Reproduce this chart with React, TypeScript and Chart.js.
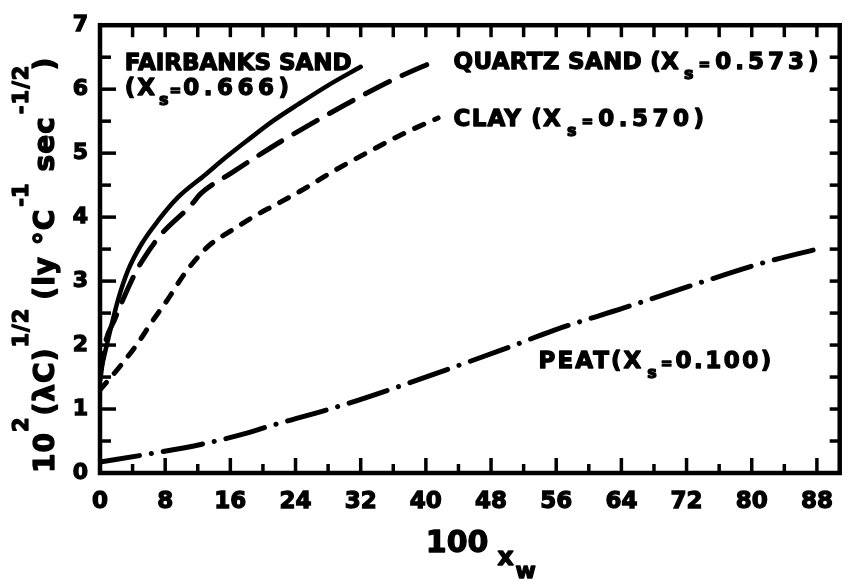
import React, { useEffect, useRef } from "react";
import { Chart, registerables } from "chart.js";

Chart.register(...registerables);

// Fairbanks sand (solid)
const fairbanksX = [0, 1.2, 2.2, 3.45, 5.1, 7.1, 9.5, 12.8, 15.6, 18.1, 21.2, 24.4, 28, 32];
const fairbanksY = [1.55, 2.2, 2.7, 3.17, 3.58, 3.94, 4.3, 4.65, 4.95, 5.2, 5.5, 5.77, 6.06, 6.35];
// Quartz sand (long dash)
const quartzX = [0, 0.6, 1.8, 4.3, 5.5, 7.5, 11.2, 12.4, 16, 19.9, 22.3, 26.5, 31.3, 36, 41.5];
const quartzY = [1.45, 2.0, 2.4, 3.12, 3.38, 3.73, 4.19, 4.37, 4.68, 5.0, 5.19, 5.5, 5.84, 6.15, 6.46];
// Clay (short dash)
const clayX = [0, 2.6, 4.7, 6.3, 8.3, 10.4, 12.4, 13.6, 16, 19.3, 21.5, 24.5, 28.4, 33.7, 37.5, 41.5];
const clayY = [1.3, 1.69, 2.04, 2.35, 2.71, 3.12, 3.43, 3.58, 3.78, 4.04, 4.19, 4.4, 4.7, 5.07, 5.32, 5.55];
// Peat (dash-dot)
const peatX = [0, 5.2, 12.5, 17.9, 21, 29, 37.1, 44.2, 50.1, 55.7, 64.3, 73.3, 81.8, 88.7];
const peatY = [0.17, 0.28, 0.45, 0.62, 0.74, 1.03, 1.37, 1.69, 1.96, 2.23, 2.58, 2.96, 3.3, 3.52];

const xMin = 0;
const xMax = 90.8;
const xStep = 4;
const xLabelEvery = 8;
const yMin = 0;
const yMax = 7;
const yStep = 0.5;

const FONT = '"DejaVu Sans"';
const STROKE = 1.3;

type Seg = { t: string; size: number; dy?: number; gap?: number; ls?: number };

function drawRich(ctx: CanvasRenderingContext2D, x: number, y: number, segs: Seg[]) {
  let cx = x;
  ctx.lineWidth = STROKE;
  ctx.strokeStyle = "#000";
  ctx.lineJoin = "round";
  for (const s of segs) {
    cx += s.gap || 0;
    ctx.font = `bold ${s.size}px ${FONT}`;
    (ctx as any).letterSpacing = `${s.ls ?? 0}px`;
    ctx.fillText(s.t, cx, y + (s.dy || 0));
    ctx.strokeText(s.t, cx, y + (s.dy || 0));
    cx += ctx.measureText(s.t).width;
  }
  (ctx as any).letterSpacing = "0px";
}

const pts = (xs: number[], ys: number[]) => xs.map((x, i) => ({ x, y: ys[i] }));

const framePlugin = {
  id: "frameTicks",
  afterDatasetsDraw(chart: any) {
    const { ctx, chartArea: a, scales } = chart;
    const xs = scales.x;
    const ys = scales.y;
    ctx.save();
    ctx.strokeStyle = "#000";
    ctx.lineCap = "butt";
    ctx.lineWidth = 3.5;
    const line = (x1: number, y1: number, x2: number, y2: number) => {
      ctx.beginPath();
      ctx.moveTo(x1, y1);
      ctx.lineTo(x2, y2);
      ctx.stroke();
    };
    xs.ticks.forEach((t: any) => {
      const v = t.value;
      if (v <= 0 || v % xStep !== 0) return;
      const px = xs.getPixelForValue(v);
      const major = v % xLabelEvery === 0;
      line(px, a.bottom, px, a.bottom - (major ? 15 : 9));
      line(px, a.top, px, a.top + 12);
    });
    ys.ticks.forEach((t: any) => {
      const v = t.value;
      if (v <= yMin || v >= yMax) return;
      const py = ys.getPixelForValue(v);
      const major = Number.isInteger(v);
      line(a.left, py, a.left + (major ? 16 : 11), py);
      line(a.right, py, a.right - 10, py);
    });
    ctx.lineWidth = 4.5;
    ctx.strokeRect(a.left, a.top, a.right - a.left, a.bottom - a.top);
    ctx.restore();
  },
};

const textPlugin = {
  id: "texts",
  afterDraw(chart: any) {
    const { ctx, chartArea: a, scales } = chart;
    const xs = scales.x;
    const ys = scales.y;
    const X = (v: number) => xs.getPixelForValue(v);
    const Y = (v: number) => ys.getPixelForValue(v);
    ctx.save();
    ctx.fillStyle = "#000";
    ctx.textBaseline = "alphabetic";
    ctx.textAlign = "left";

    drawRich(ctx, X(3.05), Y(6.3), [{ t: "FAIRBANKS SAND", size: 23, ls: 0 }]);
    drawRich(ctx, X(3.05), Y(5.91), [
      { t: "(X", size: 23, ls: 2 },
      { t: "s", size: 16, dy: 10, gap: 2 },
      { t: "=", size: 14, gap: 1 },
      { t: "0.666)", size: 23, ls: 4.5, gap: 2 },
    ]);
    drawRich(ctx, X(43.4), Y(6.31), [
      { t: "QUARTZ SAND (X", size: 23, ls: 0.3 },
      { t: "s", size: 16, dy: 10, gap: 5 },
      { t: "=", size: 14, gap: 5 },
      { t: "0.573)", size: 23, ls: 4, gap: 5 },
    ]);
    drawRich(ctx, X(43.4), Y(5.42), [
      { t: "CLAY (X", size: 23, ls: 1.2 },
      { t: "s", size: 16, dy: 10, gap: 5 },
      { t: "=", size: 14, gap: 5 },
      { t: "0.570)", size: 23, ls: 4.5, gap: 5 },
    ]);
    drawRich(ctx, X(53.84), Y(1.64), [
      { t: "PEAT(X", size: 23, ls: 2 },
      { t: "s", size: 16, dy: 10, gap: 4 },
      { t: "=", size: 14, gap: 4 },
      { t: "0.100)", size: 23, ls: 2.5, gap: 3 },
    ]);

    // x axis title
    const tx = X(40);
    const tb = a.bottom + 79;
    drawRich(ctx, tx, tb, [
      { t: "100", size: 30, ls: 0 },
      { t: "x", size: 25, dy: 13, gap: 9 },
      { t: "w", size: 22, dy: 26, gap: 2 },
    ]);

    // y axis title (rotated)
    ctx.save();
    ctx.translate(54, a.bottom);
    ctx.rotate(-Math.PI / 2);
    drawRich(ctx, 0, 0, [
      { t: "10", size: 28, ls: 1 },
      { t: "2", size: 21, dy: -26 },
      { t: "(λC)", size: 28, gap: 2, ls: 1 },
      { t: "1/2", size: 21, dy: -26, ls: 1 },
      { t: "(ly °C", size: 28, gap: 8, ls: 1 },
      { t: "-1", size: 21, dy: -26, gap: 2 },
      { t: "sec", size: 28, gap: 12, ls: 1 },
      { t: "-1/2", size: 21, dy: -26, gap: 2, ls: 1 },
      { t: ")", size: 28, gap: -6 },
    ]);
    ctx.restore();

    ctx.restore();
  },
};

export default function App() {
  const ref = useRef<HTMLCanvasElement>(null);
  useEffect(() => {
    const canvas = ref.current!;
    const common = {
      borderColor: "#000",
      backgroundColor: "#000",
      pointRadius: 0,
      fill: false,
      cubicInterpolationMode: "monotone" as const,
      borderCapStyle: "round" as const,
      borderJoinStyle: "round" as const,
    };
    const tickFont = (size: number) => ({ family: FONT, size, weight: "bold" as const });
    const chart = new Chart(canvas, {
      type: "line",
      data: {
        datasets: [
          { ...common, label: "Fairbanks sand", data: pts(fairbanksX, fairbanksY), borderWidth: 4.5 },
          { ...common, label: "Quartz sand", data: pts(quartzX, quartzY), borderWidth: 5, borderDash: [27, 14] },
          { ...common, label: "Clay", data: pts(clayX, clayY), borderWidth: 5, borderDash: [10, 12] },
          { ...common, label: "Peat", data: pts(peatX, peatY), borderWidth: 5, borderDash: [40, 12, 0.1, 12] },
        ],
      },
      options: {
        responsive: false,
        animation: false,
        events: [],
        layout: { padding: { top: 17, right: 3, left: 0, bottom: 0 } },
        plugins: { legend: { display: false }, tooltip: { enabled: false } },
        scales: {
          x: {
            type: "linear",
            min: xMin,
            max: xMax,
            grid: { display: false, drawTicks: false },
            border: { display: false },
            ticks: {
              stepSize: xStep,
              autoSkip: false,
              maxRotation: 0,
              includeBounds: false,
              padding: 15,
              color: "#000",
              textStrokeColor: "#000",
              textStrokeWidth: STROKE,
              font: tickFont(23),
              callback: (v: any) => (Number(v) % xLabelEvery === 0 ? String(v) : ""),
            },
            afterFit: (s: any) => {
              s.height = 107;
            },
          },
          y: {
            type: "linear",
            min: yMin,
            max: yMax,
            grid: { display: false, drawTicks: false },
            border: { display: false },
            ticks: {
              stepSize: yStep,
              autoSkip: false,
              padding: 12,
              color: "#000",
              textStrokeColor: "#000",
              textStrokeWidth: STROKE,
              font: tickFont(22),
              callback: (v: any) => (Number.isInteger(Number(v)) ? String(v) : ""),
            },
            afterFit: (s: any) => {
              s.width = 100;
            },
          },
        },
      },
      plugins: [framePlugin, textPlugin],
    });
    return () => chart.destroy();
  }, []);
  return (
    <canvas
      ref={ref}
      width={848}
      height={580}
      style={{ position: "fixed", left: 0, top: 0, width: 848, height: 580, background: "#fff", display: "block" }}
    />
  );
}
